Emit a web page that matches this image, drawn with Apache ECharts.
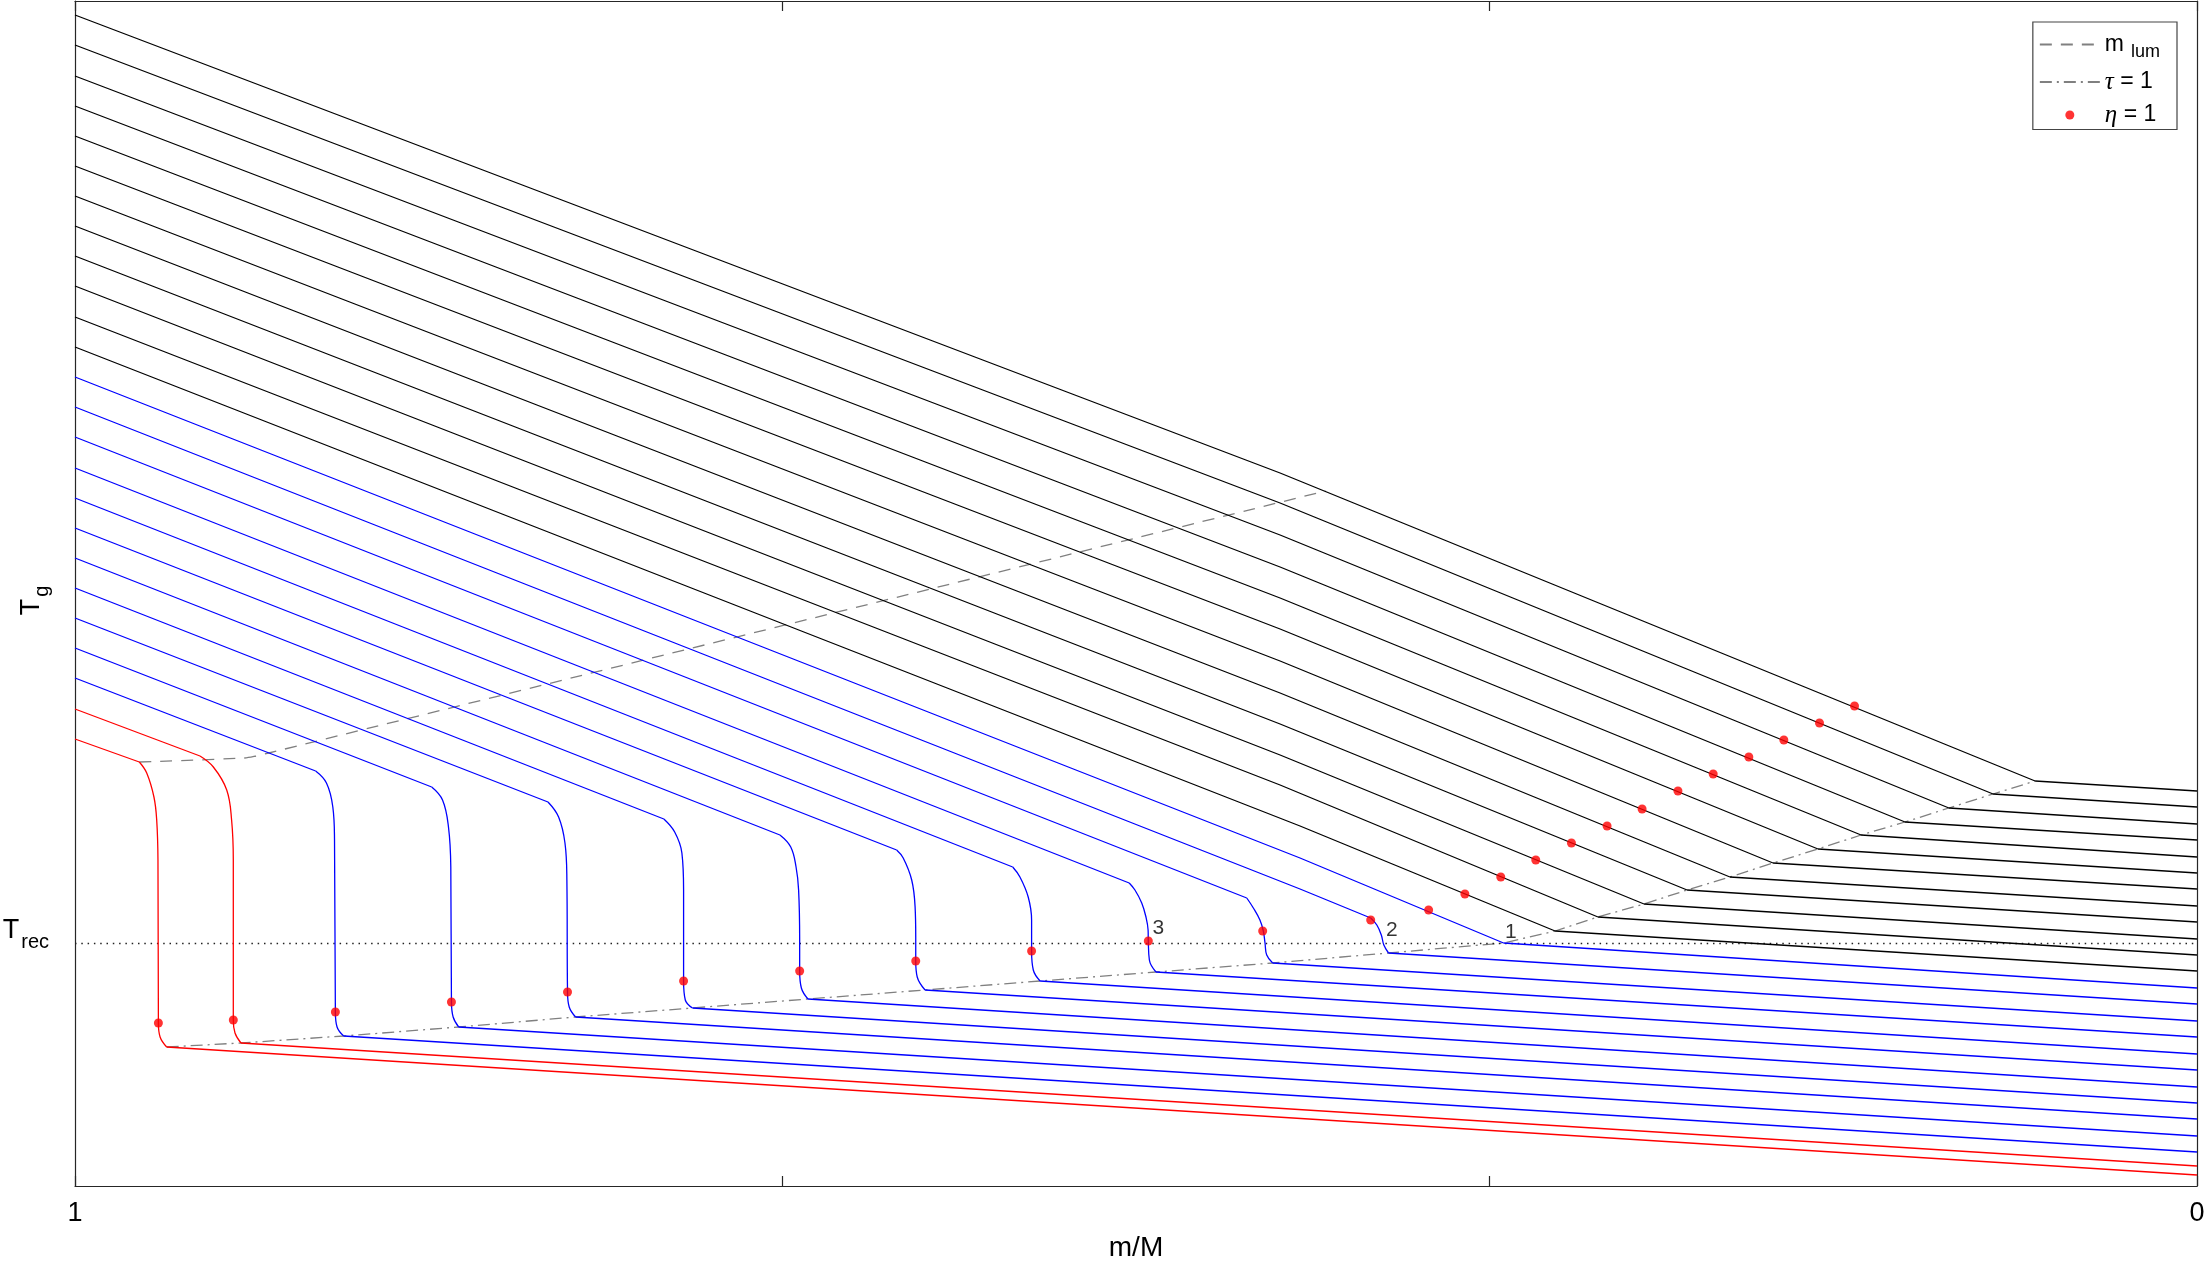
<!DOCTYPE html>
<html><head><meta charset="utf-8">
<script src="https://cdn.jsdelivr.net/npm/echarts@6/dist/echarts.min.js"></script>
<style>html,body{margin:0;padding:0;background:#fff}#c{width:2208px;height:1263px}</style>
</head><body><div id="c"></div>
<script>
// ---- data (x = m/M, y = T_g in arbitrary units) ----
const TREC = 2.425;
// T at m/M = 1 (left edge), top to bottom: 12 black, 11 blue, 2 red curves
const leftT = [11.71,11.41,11.10,10.80,10.50,10.20,9.90,9.60,9.30,9.00,8.69,8.39,8.09,7.79,7.49,7.18,6.88,6.58,6.28,5.98,5.68,5.38,5.08,4.77,4.47];
// T at m/M = 0 (right edge)
const rightT = [3.95,3.79,3.62,3.46,3.29,3.13,2.97,2.80,2.64,2.47,2.31,2.15,1.98,1.82,1.65,1.49,1.32,1.16,0.99,0.83,0.67,0.50,0.34,0.20,0.11];
// intermediate points on the upper branch (first 14 curves)
const midM = [0.4321,0.4321,0.4321,0.4321,0.4321,0.4321,0.4321,0.4321,0.4321,0.4321,0.4321,0.4227,0.4227,0.4227];
const midT = [7.13,6.83,6.51,6.19,5.88,5.57,5.25,4.93,4.62,4.31,4.01,3.60,3.28,2.97];
// end of the upper branch (kink on tau=1 for black curves, start of the drop for the others)
const kinkM = [0.0763,0.0961,0.1169,0.1376,0.1583,0.1786,0.1998,0.2201,0.2403,0.2606,0.2823,0.3025,0.3268,0.3894,0.4478,0.5032,0.5581,0.6128,0.6678,0.7225,0.7771,0.8319,0.8866,0.9411,0.9697];
const kinkT = [4.05,3.92,3.78,3.64,3.51,3.37,3.23,3.09,2.96,2.82,2.69,2.55,2.43,2.68,2.88,3.03,3.19,3.36,3.51,3.67,3.84,3.99,4.15,4.30,4.24];
// drop (recombination) parts, ending on the tau=1 line
const dropPts = [[],[],[],[],[],[],[],[],[],[],[],[],[],
  [[0.3865,2.61],[0.3844,2.51],[0.3832,2.41],[0.3810,2.33]],
  [[0.4447,2.78],[0.4416,2.66],[0.4400,2.55],[0.4392,2.43],[0.4384,2.31],[0.4356,2.23]],
  [[0.5005,2.96],[0.4973,2.83],[0.4953,2.69],[0.4943,2.56],[0.4942,2.45],[0.4937,2.26],[0.4906,2.14]],
  [[0.5547,3.09],[0.5508,2.89],[0.5492,2.66],[0.5492,2.35],[0.5484,2.16],[0.5452,2.05]],
  [[0.6097,3.28],[0.6057,3.06],[0.6041,2.79],[0.6038,2.49],[0.6038,2.25],[0.6031,2.09],[0.5994,1.96]],
  [[0.6627,3.39],[0.6602,3.19],[0.6590,2.96],[0.6585,2.46],[0.6585,2.15],[0.6577,1.98],[0.6546,1.87]],
  [[0.7174,3.54],[0.7140,3.33],[0.7132,2.96],[0.7132,2.05],[0.7124,1.86],[0.7090,1.78]],
  [[0.7721,3.69],[0.7691,3.43],[0.7682,3.06],[0.7679,1.94],[0.7671,1.79],[0.7641,1.69]],
  [[0.8268,3.86],[0.8240,3.59],[0.8229,3.19],[0.8226,1.84],[0.8218,1.69],[0.8192,1.59]],
  [[0.8815,4.03],[0.8785,3.79],[0.8777,3.46],[0.8773,1.74],[0.8765,1.59],[0.8734,1.50]],
  [[0.9348,4.19],[0.9285,3.96],[0.9262,3.66],[0.9254,3.26],[0.9254,1.66],[0.9246,1.53],[0.9218,1.43]],
  [[0.9662,4.13],[0.9628,3.89],[0.9615,3.66],[0.9609,3.26],[0.9607,1.63],[0.9599,1.49],[0.9568,1.39]]
];
// eta = 1 points
const dotM = [0.1614,0.1779,0.1947,0.2112,0.2280,0.2446,0.2615,0.2780,0.2948,0.3116,0.3281,0.3450,0.3621,0.3894,0.4403,0.4942,0.5492,0.6038,0.6585,0.7132,0.7679,0.8226,0.8773,0.9254,0.9607];
const dotT = [4.80,4.63,4.46,4.29,4.12,3.95,3.77,3.60,3.43,3.26,3.09,2.92,2.76,2.66,2.55,2.45,2.35,2.25,2.15,2.05,1.94,1.84,1.74,1.66,1.63];
// m_lum curve
const mlumM = [0.9697,0.9201,0.9147,0.9087,0.4107];
const mlumT = [4.24,4.28,4.30,4.33,6.95];
// curve numbers
const labelText = ['1','2','3'];
const labelM = [0.3234,0.3794,0.4895];
const labelT = [2.533,2.553,2.577];

// ---- build chart ----
const FONT = 'Liberation Sans, Arial, Helvetica, sans-serif';
const BLACK = '#000000', BLUE = '#0000ff', RED = '#ff0000', GRAY = '#808080';
const colorOf = i => i < 12 ? BLACK : (i < 23 ? BLUE : RED);
const LW = 1.3;
const series = [];
const tauPts = [];
for (let i = 0; i < 25; i++) {
  const ls = {color: colorOf(i), width: LW};
  const up = [[1, leftT[i]]];
  if (i < midT.length) up.push([midM[i], midT[i]]);
  up.push([kinkM[i], kinkT[i]]);
  const drop = dropPts[i];
  const bottom = drop.length ? drop[drop.length - 1] : [kinkM[i], kinkT[i]];
  series.push({type: 'line', data: up, symbol: 'none', lineStyle: ls, silent: true, z: 2});
  if (drop.length) series.push({type: 'line', data: [[kinkM[i], kinkT[i]]].concat(drop), smooth: 0.4, symbol: 'none', lineStyle: ls, silent: true, z: 2});
  series.push({type: 'line', data: [bottom, [0, rightT[i]]], symbol: 'none', lineStyle: ls, silent: true, z: 2});
}
for (let i = 24; i >= 0; i--) {
  const d = dropPts[i];
  tauPts.push(d.length ? d[d.length - 1] : [kinkM[i], kinkT[i]]);
}
series.push({name: 'mlum', type: 'line', data: mlumM.map((m, k) => [m, mlumT[k]]), smooth: 0.3, symbol: 'none',
  lineStyle: {color: GRAY, width: 1.3, type: [12, 9]}, itemStyle: {color: GRAY}, z: 1});
series.push({name: 'tau', type: 'line', data: tauPts, symbol: 'none',
  lineStyle: {color: GRAY, width: 1.3, type: [12, 5, 2, 5]}, itemStyle: {color: GRAY}, z: 1});
series.push({name: 'trec', type: 'line', data: [[1, TREC], [0, TREC]], symbol: 'none',
  lineStyle: {color: '#222', width: 1.4, type: [1.5, 4.8]}, z: 1});
series.push({name: 'eta', type: 'scatter', data: dotM.map((m, k) => [m, dotT[k]]), symbol: 'circle', symbolSize: 9,
  itemStyle: {color: RED}, z: 5});
series.push({name: 'labels', type: 'scatter', symbolSize: 0,
  data: labelText.map((t, k) => ({name: t, value: [labelM[k], labelT[k]]})),
  label: {show: true, position: 'inside', formatter: p => p.name, fontSize: 21, color: '#000', fontFamily: FONT}, z: 6});

const axisLineStyle = {color: '#262626', width: 1.2};
const recRich = {
  t: {fontSize: 27, fontFamily: FONT, color: '#000', padding: [0, 0, 14, 0]},
  sub: {fontSize: 20, fontFamily: FONT, color: '#000', padding: [8, 0, 0, 2]}
};
const gRich = {
  t: {fontSize: 27, fontFamily: FONT, color: '#000', padding: [0, 0, 14, 0]},
  sub: {fontSize: 20, fontFamily: FONT, color: '#000', padding: [8, 14, 0, 2]}
};
const option = {
  animation: false,
  backgroundColor: '#fff',
  grid: {left: 75, right: 11, top: 1, bottom: 77, containLabel: false, outerBoundsMode: 'none'},
  legend: {
    data: [{name: 'mlum', itemStyle: {opacity: 0}}, {name: 'tau', itemStyle: {opacity: 0}}, {name: 'eta'}],
    orient: 'vertical', right: 31, top: 22,
    itemWidth: 60, itemHeight: 9, itemGap: 8,
    padding: [11, 17, 2, 6], borderColor: '#444', borderWidth: 1.2, backgroundColor: '#fff',
    formatter: n => ({mlum: 'm{sub|lum}', tau: '{it|τ} = 1', eta: '{it|η} = 1'}[n]),
    textStyle: {fontFamily: FONT, fontSize: 23, color: '#000',
      rich: {sub: {fontSize: 18, fontFamily: FONT, padding: [16, 0, 0, 7]}, it: {fontSize: 25, fontStyle: 'italic', fontFamily: 'Liberation Serif, serif'}}}
  },
  xAxis: [{
    type: 'value', min: 0, max: 1, inverse: true, position: 'bottom',
    axisLine: {show: true, onZero: false, lineStyle: axisLineStyle},
    axisTick: {show: true, inside: true, length: 10, customValues: [0, 1/3, 2/3, 1], lineStyle: axisLineStyle},
    axisLabel: {customValues: [0, 1], formatter: v => String(Math.round(v)), fontSize: 27, margin: 14, color: '#000', fontFamily: FONT},
    splitLine: {show: false},
    name: 'm/M', nameLocation: 'middle', nameGap: 48, nameMoveOverlap: false,
    nameTextStyle: {fontSize: 28, color: '#000', fontFamily: FONT}
  }, {
    type: 'value', min: 0, max: 1, inverse: true, position: 'top',
    axisLine: {show: true, onZero: false, lineStyle: axisLineStyle},
    axisTick: {show: true, inside: true, length: 10, customValues: [0, 1/3, 2/3, 1], lineStyle: axisLineStyle},
    axisLabel: {show: false}, splitLine: {show: false}
  }],
  yAxis: [{
    type: 'value', min: 0, max: 11.85, position: 'left',
    axisLine: {show: true, onZero: false, lineStyle: axisLineStyle},
    axisTick: {show: false},
    axisLabel: {customValues: [TREC], formatter: () => '{t|T}{sub|rec}', margin: 26, padding: [0, 0, 11, 0], rich: recRich},
    splitLine: {show: false},
    name: '{t|T}{sub|g}', nameLocation: 'middle', nameGap: 16, nameRotate: 90, nameMoveOverlap: false,
    nameTextStyle: {rich: gRich}
  }, {
    type: 'value', min: 0, max: 11.85, position: 'right',
    axisLine: {show: true, onZero: false, lineStyle: axisLineStyle},
    axisTick: {show: false}, axisLabel: {show: false}, splitLine: {show: false}
  }],
  series: series
};
const chart = echarts.init(document.getElementById('c'));
chart.setOption(option);
</script></body></html>
